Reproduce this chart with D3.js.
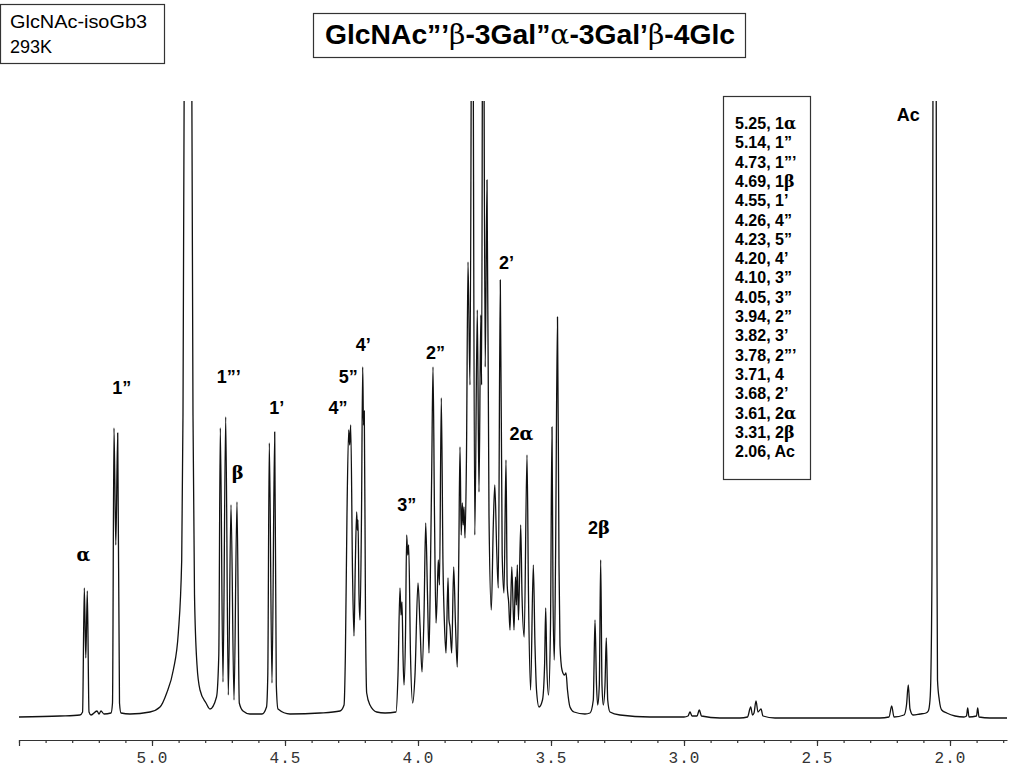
<!DOCTYPE html>
<html>
<head>
<meta charset="utf-8">
<script src="https://cdn.jsdelivr.net/npm/d3@7"></script>
<style>
  body { margin: 0; background: #fff; }
  svg { display: block; }
  .frame { fill: none; stroke: #333; stroke-width: 1.2; }
  .box-text { font-family: "Liberation Sans", Arial, sans-serif; fill: #000; }
  .tick text { font-family: "Liberation Mono", "DejaVu Sans Mono", monospace; font-size: 16px; fill: #333; }
</style>
</head>
<body>
<div id="chart"></div>
<script>
// 1H NMR spectrum, GlcNAc-isoGb3 at 293K
// spectrum vertices: [ppm, intensity a.u.]
const spectrum = [
  [5.500, -2], [5.346, -1], [5.271, 0], [5.261, 3],
  // H-1 alpha
  [5.2545, 127], [5.2489, 57], [5.2432, 124], [5.2368, 3], [5.2293, 0],
  [5.2068, 4], [5.1992, 1], [5.1917, 4], [5.1805, 1], [5.1541, 2],
  // H-1''
  [5.1485, 12], [5.1429, 287], [5.1361, 170], [5.1289, 282], [5.1222, 12], [5.1165, 2],
  [5.0827, 1], [5.0075, 3], [4.9699, 8], [4.9447, 22], [4.9199, 45], [4.9011, 82],
  // HDO
  [4.8883, 155], [4.8835, 300], [4.8789, 640], [4.8647, 3000], [4.8504, 640],
  [4.8459, 300], [4.8402, 120], [4.8308, 50], [4.8195, 25], [4.797, 12], [4.782, 6],
  // H-1''' and H-1 beta
  [4.7575, 18], [4.7489, 60], [4.7432, 287], [4.7331, 33], [4.7229, 298], [4.7132, 20],
  [4.703, 210], [4.6917, 15], [4.6805, 213], [4.6718, 12], [4.6579, 4], [4.6316, 1],
  // H-1'
  [4.5865, 1], [4.5695, 8], [4.5647, 40], [4.559, 272], [4.5489, 32], [4.5387, 283],
  [4.5327, 30], [4.5263, 6], [4.4812, 1], [4.3684, 2], [4.2932, 4],
  // H-4'', H-5'', H-4'
  [4.278, 10], [4.273, 60], [4.267, 200], [4.2605, 285], [4.2568, 270], [4.253, 290],
  [4.246, 140], [4.2406, 79], [4.2357, 150], [4.2305, 203], [4.2282, 185], [4.2256, 195],
  [4.2218, 120], [4.218, 95], [4.2124, 200], [4.2079, 348], [4.2049, 290], [4.2019, 304],
  [4.1974, 100], [4.1929, 22], [4.1805, 10], [4.1553, 3], [4.124, 2], [4.0827, 3],
  // ring protons 4.08 - 3.42
  [4.0752, 40], [4.0677, 127], [4.0639, 100], [4.0602, 113], [4.0564, 60], [4.0526, 30],
  [4.047, 80], [4.0425, 180], [4.0387, 160], [4.035, 170], [4.0282, 60], [4.0199, 12],
  [4.0113, 40], [4.0, 132], [3.9925, 90], [3.985, 43], [3.9774, 100], [3.971, 192],
  [3.9643, 120], [3.9586, 62], [3.953, 150], [3.9485, 242], [3.9436, 348], [3.938, 200],
  [3.9323, 92], [3.9278, 120], [3.9237, 155], [3.9192, 130], [3.9124, 317], [3.906, 150],
  [3.9004, 90], [3.8947, 62], [3.8872, 137], [3.8835, 95], [3.8797, 88], [3.8733, 62],
  [3.8658, 148], [3.859, 90], [3.8523, 48], [3.847, 150], [3.8421, 268], [3.8376, 180],
  [3.8335, 212], [3.8301, 190], [3.8271, 208], [3.8233, 177], [3.8177, 260], [3.812, 453],
  [3.8045, 330], [3.7959, 900], [3.7865, 180], [3.7771, 405], [3.7707, 223], [3.7639, 400],
  [3.7609, 330], [3.7556, 900], [3.7474, 348], [3.7406, 535], [3.7331, 200], [3.7244, 105],
  [3.7169, 190], [3.7113, 230], [3.7041, 165], [3.6981, 127], [3.6906, 435], [3.6835, 160],
  [3.6767, 122], [3.6692, 255], [3.6647, 130], [3.659, 112], [3.6541, 85], [3.6474, 148],
  [3.6391, 85], [3.6335, 138], [3.6301, 110], [3.6267, 150], [3.6222, 95], [3.6139, 190],
  [3.609, 120], [3.6008, 78], [3.5902, 260], [3.5846, 120], [3.5767, 25], [3.5665, 150],
  [3.5602, 70], [3.5545, 25], [3.5451, 8], [3.532, 15], [3.5241, 50], [3.5199, 107],
  [3.5158, 50], [3.5094, 20], [3.5019, 90], [3.4962, 288], [3.4925, 120], [3.4876, 55],
  [3.4831, 150], [3.4756, 398], [3.4699, 150], [3.4662, 70], [3.4586, 45], [3.4492, 40],
  [3.4436, 42], [3.438, 25], [3.4286, 8], [3.4135, 3], [3.3722, 1], [3.3534, 2],
  // H-2 beta
  [3.341, 15], [3.3346, 95], [3.3289, 30], [3.3244, 10], [3.3184, 30], [3.3132, 155],
  [3.3083, 30], [3.3034, 10], [3.297, 30], [3.2921, 77], [3.2868, 15], [3.2782, 3],
  [3.2406, 0], [3.1278, -2], [3.0, -2],
  // small impurities
  [2.985, -1], [2.9774, 3], [2.9699, -1], [2.9511, -1], [2.9425, 5], [2.9342, -1],
  [2.8647, -3], [2.7895, -3], [2.7613, -2], [2.7492, 8], [2.7425, 0], [2.7368, 2],
  [2.7293, 14], [2.7218, 3], [2.7105, 6], [2.703, -1], [2.6579, -3], [2.2632, -3],
  [2.2293, -2], [2.2192, 9], [2.2105, -2], [2.1729, 0], [2.1635, 10], [2.1568, 30],
  [2.1504, 6], [2.1391, 0], [2.1128, 1], [2.0902, 2],
  // N-acetyl CH3
  [2.0816, 4], [2.0752, 15], [2.0722, 35], [2.0677, 150], [2.0639, 640], [2.0579, 3000],
  [2.0519, 640], [2.0489, 150], [2.047, 35], [2.0402, 15], [2.0312, 5], [2.0124, 2],
  [1.9812, -1], [1.9474, -2], [1.938, -1], [1.9335, 7], [1.9286, -2], [1.9004, -1],
  [1.8959, 7], [1.891, -2], [1.8496, -3], [1.7857, -3]
];

// peak labels: text, ppm, intensity level of the label
const peakLabels = [
  ["α", 5.258, 160], ["1”", 5.114, 327], ["1”’", 4.711, 338], ["β", 4.678, 242],
  ["1’", 4.531, 307], ["4”", 4.301, 307], ["5”", 4.262, 338], ["4’", 4.206, 370],
  ["3”", 4.042, 210], ["2”", 3.934, 362], ["2’", 3.667, 452], ["2α", 3.611, 281],
  ["2β", 3.320, 187], ["Ac", 2.157, 600]
];

// assignment table
const shifts = ["5.25", "5.14", "4.73", "4.69", "4.55", "4.26", "4.23", "4.20", "4.10",
  "4.05", "3.94", "3.82", "3.78", "3.71", "3.68", "3.61", "3.31", "2.06"];
const protons = ["1α", "1”", "1”’", "1β", "1’", "4”", "5”", "4’", "3”",
  "3”", "2”", "3’", "2”’", "4", "2’", "2α", "2β", "Ac"];

const tickLabels = [5.0, 4.5, 4.0, 3.5, 3.0, 2.5, 2.0];
const title = "GlcNAc”’β-3Gal”α-3Gal’β-4Glc";
const sampleInfo = ["GlcNAc-isoGb3", "293K"];

const width = 1024, height = 768;

const svg = d3.select("#chart").append("svg")
  .attr("width", width)
  .attr("height", height);

const x = d3.scaleLinear().domain([5.5, 1.7857]).range([19, 1007]);
const y = d3.scaleLinear().domain([0, 614]).range([715, 101]);

// greek letters in a serif face, like the Symbol font of the original
function greekText(sel, str, weight) {
  str.split(/([αβ])/).filter(s => s.length).forEach(s => {
    const t = sel.append("tspan").text(s);
    if (/[αβ]/.test(s)) t.style("font-family", "'DejaVu Serif', 'Liberation Serif', serif")
      .style("font-weight", weight);
  });
}

// --- spectrum ---
svg.append("clipPath").attr("id", "plot-clip")
  .append("rect").attr("x", 19).attr("y", 101).attr("width", 988).attr("height", 630);

const line = d3.line()
  .x(d => x(d[0]))
  .y(d => y(d[1]))
  .curve(d3.curveMonotoneX);

svg.append("path")
  .datum(spectrum)
  .attr("clip-path", "url(#plot-clip)")
  .attr("fill", "none")
  .attr("stroke", "#111")
  .attr("stroke-width", 1.3)
  .attr("stroke-linejoin", "round")
  .attr("d", line);

// --- axis ---
const minorTicks = d3.range(55, 17, -1).map(v => v / 10);

svg.append("g")
  .attr("transform", "translate(0,740)")
  .call(d3.axisBottom(x).tickValues(minorTicks).tickSize(3).tickSizeOuter(0).tickFormat(""))
  .call(g => g.selectAll("path, line").attr("stroke", "#333").attr("stroke-width", 1.2));

svg.append("g")
  .attr("transform", "translate(0,740)")
  .call(d3.axisBottom(x).tickValues([5.5, ...tickLabels]).tickSize(6).tickSizeOuter(0)
    .tickPadding(6).tickFormat(d => d === 5.5 ? "" : d3.format(".1f")(d)))
  .call(g => g.select(".domain").remove())
  .call(g => g.selectAll("line").attr("stroke", "#333").attr("stroke-width", 1.2))
  .call(g => g.selectAll("text").attr("letter-spacing", "1px"));

// --- peak labels ---
peakLabels.forEach(([txt, ppm, lvl]) => {
  const t = svg.append("text")
    .attr("class", "box-text")
    .attr("x", x(ppm))
    .attr("y", y(lvl))
    .attr("dy", "0.35em")
    .attr("text-anchor", "middle")
    .attr("font-size", 18)
    .attr("font-weight", "bold");
  greekText(t, txt, "bold");
});

// --- assignment table ---
svg.append("rect").attr("class", "frame")
  .attr("x", 723.5).attr("y", 96.5).attr("width", 87).attr("height", 383);

shifts.forEach((s, i) => {
  const t = svg.append("text")
    .attr("class", "box-text")
    .attr("x", 735)
    .attr("y", 129 + i * 19.3)
    .attr("font-size", 16)
    .attr("font-weight", "bold");
  greekText(t, `${s}, ${protons[i]}`, "bold");
});

// --- sample box ---
svg.append("rect").attr("class", "frame")
  .attr("x", 0.5).attr("y", 4.5).attr("width", 164).attr("height", 59);

sampleInfo.forEach((s, i) => {
  const t = svg.append("text")
    .attr("class", "box-text")
    .attr("x", 10)
    .attr("y", 28 + i * 25)
    .attr("font-size", 18)
    .text(s);
  if (i === 0) t.attr("textLength", 137).attr("lengthAdjust", "spacingAndGlyphs");
});

// --- title box ---
svg.append("rect").attr("class", "frame")
  .attr("x", 313.5).attr("y", 13.5).attr("width", 432).attr("height", 44);

const titleText = svg.append("text")
  .attr("class", "box-text")
  .attr("x", 325)
  .attr("y", 44)
  .attr("font-size", 28)
  .attr("font-weight", "bold")
  .attr("textLength", 410)
  .attr("lengthAdjust", "spacingAndGlyphs");
greekText(titleText, title, "normal");
</script>
</body>
</html>
